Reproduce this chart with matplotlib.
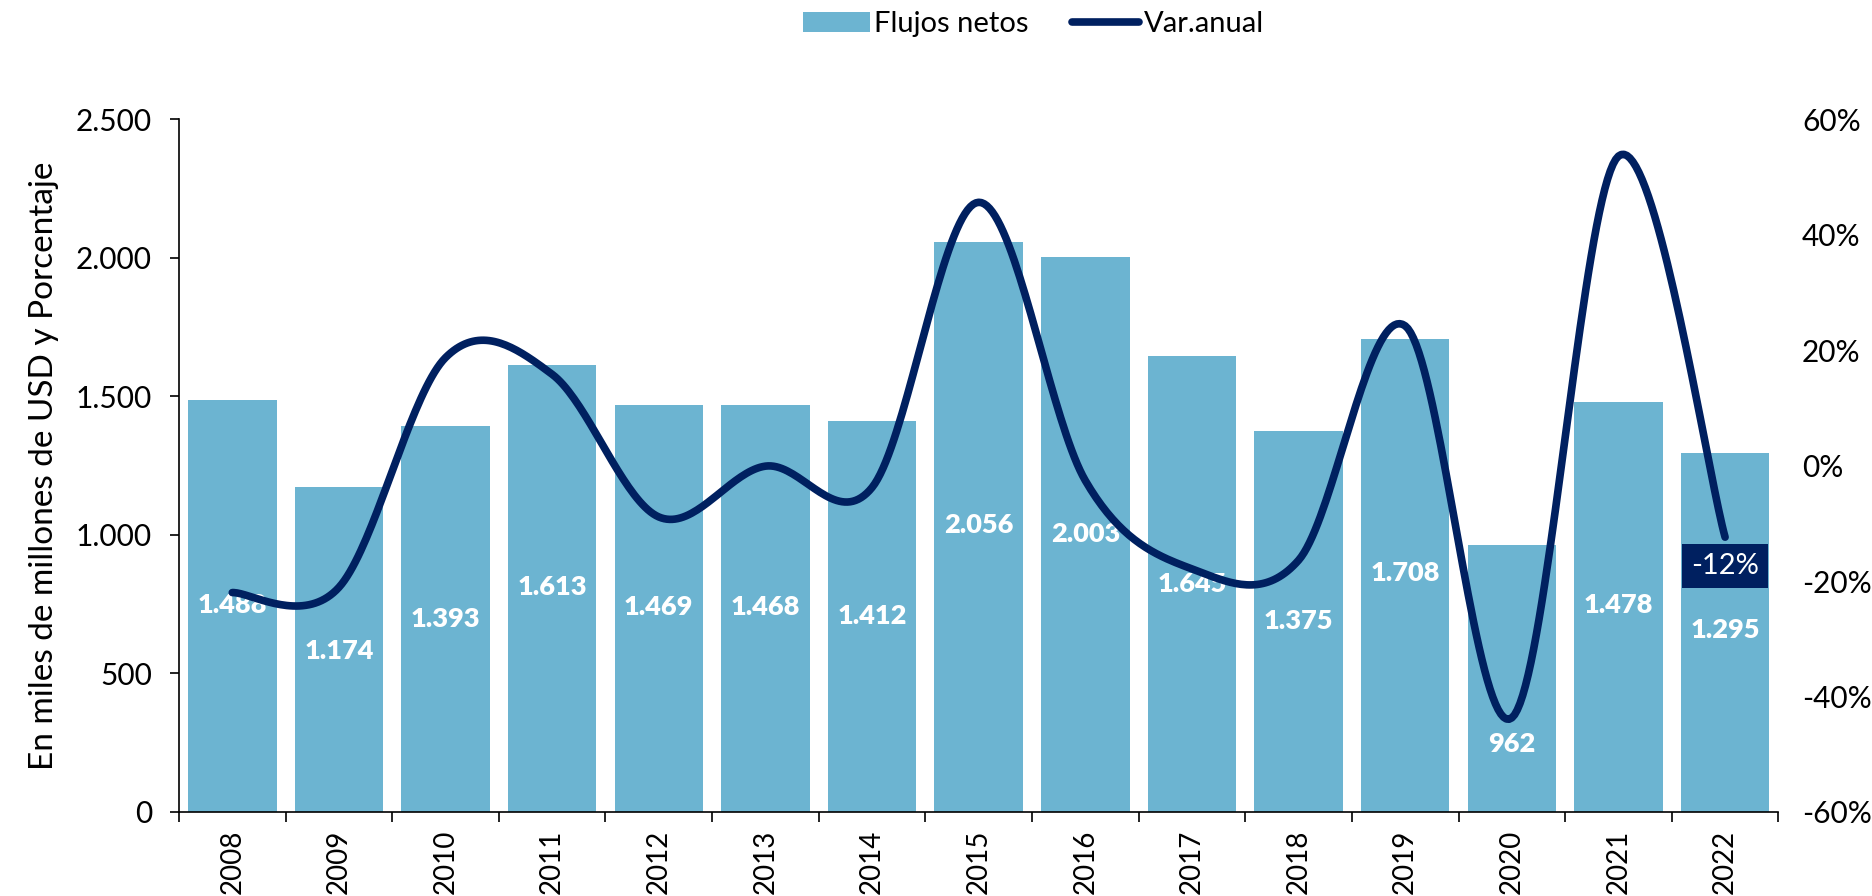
import matplotlib
matplotlib.use("Agg")
import matplotlib.pyplot as plt
import numpy as np
from matplotlib.ticker import FuncFormatter, FixedLocator
from matplotlib.patches import Patch
from matplotlib.lines import Line2D

years = ["2008", "2009", "2010", "2011", "2012", "2013", "2014", "2015",
         "2016", "2017", "2018", "2019", "2020", "2021", "2022"]
flujos = [1488, 1174, 1393, 1613, 1469, 1468, 1412, 2056, 2003, 1645, 1375, 1708, 962, 1478, 1295]
var_anual = [-22.0, -21.1, 18.7, 15.8, -8.9, -0.1, -3.8, 45.6, -2.6, -17.9, -16.4, 24.2, -43.7, 53.6, -12.4]
# vertical position (left-axis units) where each bar label is drawn
label_y = [746, 582, 698, 810, 741, 741, 707, 1034, 1004, 823, 690, 862, 246, 746, 655]

bar_color = "#6CB4D1"
line_color = "#002060"

plt.rcParams['font.family'] = ['Lato', 'DejaVu Sans']

fig = plt.figure(figsize=(18.72, 8.96), dpi=100)
ax = fig.add_axes([0.0956, 0.0938, 0.8544, 0.7732])
ax2 = ax.twinx()

x = np.arange(len(years))
ax.bar(x, flujos, width=0.83, color=bar_color, zorder=2)
ax.set_xlim(-0.5, len(years) - 0.5)
ax.set_ylim(0, 2500)
ax.set_yticks(np.arange(0, 2501, 500))
ax.yaxis.set_major_formatter(FuncFormatter(lambda v, p: f"{int(v):,}".replace(",", ".")))
ax.tick_params(axis='y', direction='out', length=6.5, width=1.2, pad=13, labelsize=21.5)
ax.set_xticks(x)
ax.set_xticklabels(years, rotation=90, fontsize=20)
ax.tick_params(axis='x', which='major', length=0, pad=13)
ax.xaxis.set_minor_locator(FixedLocator(np.arange(-0.5, len(years), 1.0)))
ax.tick_params(axis='x', which='minor', direction='out', length=7, width=1.2)
for s in ['top', 'right']:
    ax.spines[s].set_visible(False)
for s in ['left', 'bottom']:
    ax.spines[s].set_linewidth(1.2)
ax.set_ylabel("En miles de millones de USD y Porcentaje", fontsize=24, labelpad=12)

for xi, v, ly in zip(x, flujos, label_y):
    ax.text(xi, ly, f"{v:,}".replace(",", "."), color="white", fontsize=19.5,
            fontweight='heavy', ha='center', va='center', zorder=5)

# smooth line (Catmull-Rom through the data points)
def smooth(xs, ys, n=40):
    xs = np.asarray(xs, float); ys = np.asarray(ys, float)
    P = np.column_stack([xs, ys])
    P = np.vstack([P[0], P, P[-1]])
    out = []
    for i in range(1, len(P) - 2):
        p0, p1, p2, p3 = P[i - 1], P[i], P[i + 1], P[i + 2]
        c1 = p1 + (p2 - p0) / 6.0
        c2 = p2 - (p3 - p1) / 6.0
        t = np.linspace(0, 1, n)[:, None]
        seg = ((1 - t) ** 3) * p1 + 3 * ((1 - t) ** 2) * t * c1 + 3 * (1 - t) * t ** 2 * c2 + t ** 3 * p2
        out.append(seg if i == 1 else seg[1:])
    s = np.vstack(out)
    return s[:, 0], s[:, 1]

sx, sy = smooth(x, np.array(var_anual) / 100.0)
ax2.plot(sx, sy, color=line_color, lw=5.5, solid_capstyle='round', zorder=4)
ax2.set_ylim(-0.6, 0.6)
ax2.set_yticks(np.arange(-0.6, 0.61, 0.2))
ax2.yaxis.set_major_formatter(FuncFormatter(lambda v, p: f"{int(round(v * 100))}%"))
ax2.tick_params(axis='y', length=0, pad=17, labelsize=21.5)
for s in ['top', 'right', 'left', 'bottom']:
    ax2.spines[s].set_visible(False)

ax2.text(x[-1], var_anual[-1] / 100.0 - 0.05, f"{var_anual[-1]:.0f}%", color="white", fontsize=21,
         ha='center', va='center', zorder=6,
         bbox=dict(boxstyle='square,pad=0.3', facecolor=line_color, edgecolor='none'))

handles = [Patch(facecolor=bar_color, edgecolor='none'),
           Line2D([0], [0], color=line_color, lw=5.5, solid_capstyle='round')]
fig.legend(handles, ["Flujos netos", "Var.anual"], loc='center', bbox_to_anchor=(0.552, 0.973),
           ncol=2, frameon=False, fontsize=21, handlelength=2.3, handletextpad=0.15,
           columnspacing=1.5)

fig.savefig("out.png", dpi=100)
